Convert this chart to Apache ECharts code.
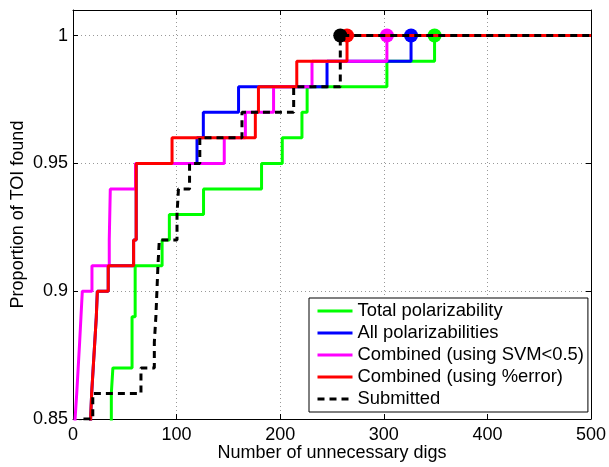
<!DOCTYPE html>
<html><head><meta charset="utf-8">
<script src="https://cdn.jsdelivr.net/npm/echarts@6/dist/echarts.min.js"></script>
<style>html,body{margin:0;padding:0;background:#fff}#c{width:609px;height:467px}</style>
</head><body><div id="c"></div>
<script>
const seriesNames = ['Total polarizability', 'All polarizabilities', 'Combined (using SVM<0.5)', 'Combined (using %error)', 'Submitted'];
const seriesColors = ['#00ff00', '#0000ff', '#ff00ff', '#ff0000', '#000000'];

const greenX = [0, 37, 38.5, 57, 60, 86, 93, 126, 182, 202, 221, 226, 303, 349, 500];
const greenY = [0.84, 0.86, 0.87, 0.89, 0.91, 0.92, 0.93, 0.94, 0.95, 0.96, 0.97, 0.98, 0.99, 1.0, 1.0];

const blueX = [0, 17, 18, 19.5, 21, 22.5, 23.5, 34, 58.5, 61, 119.7, 125.8, 159.8, 245.2, 326.3, 500];
const blueY = [0.84, 0.85, 0.86, 0.87, 0.88, 0.89, 0.90, 0.91, 0.92, 0.95, 0.96, 0.97, 0.98, 0.99, 1.0, 1.0];

const magentaX = [0, 2, 3.6, 5, 6.4, 7.7, 9, 18.3, 35, 36, 60.3, 146, 166.4, 193.6, 230.7, 303, 500];
const magentaY = [0.84, 0.85, 0.86, 0.87, 0.88, 0.89, 0.90, 0.91, 0.92, 0.94, 0.95, 0.96, 0.97, 0.98, 0.99, 1.0, 1.0];

const redX = [0, 17, 18, 19.5, 21, 22.5, 23.5, 34, 58.5, 61, 95.6, 176, 179, 216, 264.5, 500];
const redY = [0.84, 0.85, 0.86, 0.87, 0.88, 0.89, 0.90, 0.91, 0.92, 0.95, 0.96, 0.97, 0.98, 0.99, 1.0, 1.0];

const blackX = [0, 7, 19.1, 65.6, 78.5, 80, 81, 82, 83.3, 100.4, 101.8, 112.5, 122.4, 163.1, 213, 258, 500];
const blackY = [0.84, 0.85, 0.86, 0.87, 0.88, 0.89, 0.90, 0.91, 0.92, 0.93, 0.94, 0.95, 0.96, 0.97, 0.98, 1.0, 1.0];

const xTicks = [0, 100, 200, 300, 400, 500];
const yTicks = [0.85, 0.9, 0.95, 1];

const allX = [greenX, blueX, magentaX, redX, blackX];
const allY = [greenY, blueY, magentaY, redY, blackY];

const FONT = 'Liberation Sans, Arial, Helvetica, sans-serif';
const series = [];
for (let i = 0; i < 5; i++) {
  const xs = allX[i], ys = allY[i];
  const pts = xs.map((x, k) => [x, ys[k]]);
  series.push({
    type: 'line', name: seriesNames[i], data: pts, step: 'end', symbol: 'none',
    clip: true, animation: false,
    lineStyle: { color: seriesColors[i], width: 3, type: i === 4 ? [7, 5] : 'solid' },
    itemStyle: { color: seriesColors[i] }
  });
  const k1 = ys.findIndex(v => v >= 1);
  series.push({
    type: 'scatter', name: seriesNames[i] + ' end', data: [[xs[k1], ys[k1]]],
    symbol: 'circle', symbolSize: 14, animation: false, silent: true,
    itemStyle: { color: seriesColors[i], opacity: 1 }
  });
}

function yFmt(v) {
  for (const t of yTicks) if (Math.abs(v - t) < 1e-6) return String(t);
  return '';
}

const chart = echarts.init(document.getElementById('c'), null, { renderer: 'canvas' });
chart.setOption({
  animation: false,
  backgroundColor: '#fff',
  textStyle: { fontFamily: FONT },
  grid: { left: 73, right: 18, top: 10, bottom: 48, containLabel: false, outerBoundsMode: 'none' },
  legend: {
    data: seriesNames, orient: 'vertical', left: 309, top: 298,
    backgroundColor: '#fff', borderColor: '#000', borderWidth: 1,
    padding: [3, 4, 3, 7], itemGap: 2, itemWidth: 35, itemHeight: 14,
    selectedMode: false,
    itemStyle: { opacity: 0 },
    lineStyle: { width: 3 },
    textStyle: { fontFamily: FONT, fontSize: 18.4, color: '#000', lineHeight: 20 }
  },
  xAxis: [{
    type: 'value', min: 0, max: 500, interval: 100, position: 'bottom',
    name: 'Number of unnecessary digs', nameLocation: 'middle', nameGap: 25, nameMoveOverlap: false,
    nameTextStyle: { fontFamily: FONT, fontSize: 18, color: '#000' },
    axisLine: { show: true, onZero: false, lineStyle: { color: '#000', width: 1 } },
    axisTick: { show: true, inside: true, length: 5, lineStyle: { color: '#000' } },
    axisLabel: { fontFamily: FONT, fontSize: 18, color: '#000', margin: 7 },
    splitLine: { show: true, lineStyle: { color: '#999', type: [1, 3], width: 1 } }
  }, {
    type: 'value', min: 0, max: 500, interval: 100, position: 'top',
    axisLine: { show: true, onZero: false, lineStyle: { color: '#000', width: 1 } },
    axisTick: { show: true, inside: true, length: 5, lineStyle: { color: '#000' } },
    axisLabel: { show: false }, splitLine: { show: false }
  }],
  yAxis: [{
    type: 'value', min: 0.85, max: 1.01, interval: 0.05, position: 'left',
    name: 'Proportion of TOI found', nameLocation: 'middle', nameGap: 46, nameMoveOverlap: false,
    nameTextStyle: { fontFamily: FONT, fontSize: 18, color: '#000' },
    axisLine: { show: true, onZero: false, lineStyle: { color: '#000', width: 1 } },
    axisTick: { show: true, inside: true, length: 5, lineStyle: { color: '#000' } },
    axisLabel: { fontFamily: FONT, fontSize: 18, color: '#000', margin: 5, formatter: yFmt },
    splitLine: { show: true, lineStyle: { color: '#999', type: [1, 3], width: 1 } }
  }, {
    type: 'value', min: 0.85, max: 1.01, interval: 0.05, position: 'right',
    axisLine: { show: true, onZero: false, lineStyle: { color: '#000', width: 1 } },
    axisTick: { show: true, inside: true, length: 5, lineStyle: { color: '#000' } },
    axisLabel: { show: false }, splitLine: { show: false }
  }],
  series: series
});
</script></body></html>
